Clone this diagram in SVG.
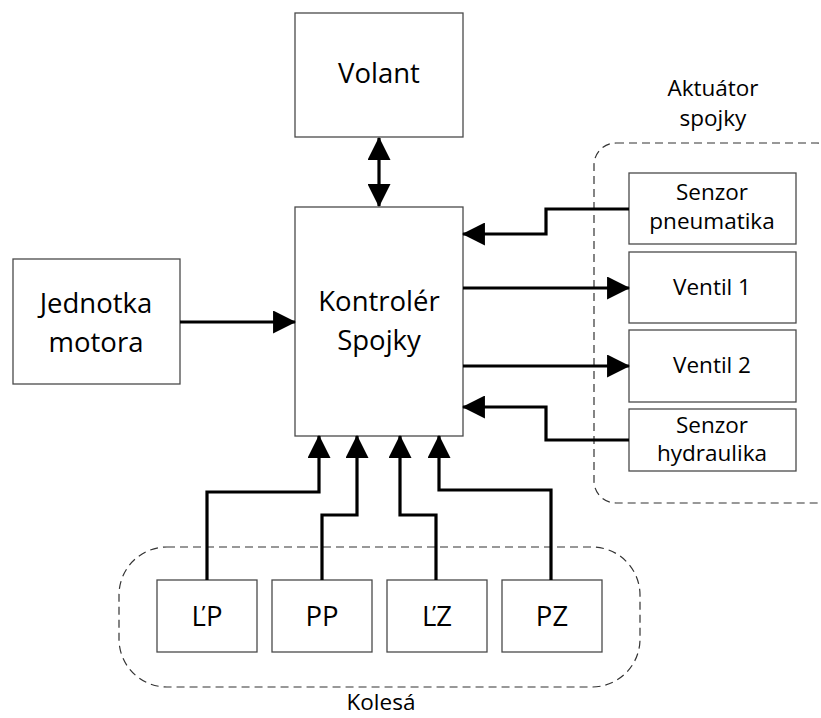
<svg xmlns="http://www.w3.org/2000/svg" width="821" height="718" viewBox="0 0 821 718">
<style>
.box{fill:#fff;stroke:#4a4a4a;stroke-width:1.3}
.grp{fill:none;stroke:#333;stroke-width:1.2;stroke-dasharray:8 5}
.t{font-family:"Open Sans","Liberation Sans",sans-serif;fill:#000;text-anchor:middle}
.big{font-size:27.5px}
.mid{font-size:22.5px}
.con{fill:none;stroke:#000;stroke-width:3.2}
</style>
<defs>
<marker id="ah" viewBox="0 0 22 22" refX="21" refY="11" markerWidth="23" markerHeight="23" markerUnits="userSpaceOnUse" orient="auto-start-reverse">
<path d="M0,0 L22,11 L0,22 Z" fill="#000"/>
</marker>
</defs>
<rect width="821" height="718" fill="#fff"/>
<g id="grp-aktuator">
<rect class="grp" x="594" y="143" width="245" height="360" rx="22"/>
<text class="t mid" x="713" y="96">Aktuátor</text>
<text class="t mid" x="713" y="126">spojky</text>
</g>
<g id="grp-kolesa">
<rect class="grp" x="119" y="547" width="521" height="140" rx="48"/>
<text class="t mid" x="381" y="710">Kolesá</text>
</g>
<g id="volant">
<rect class="box" x="295" y="13" width="168" height="124"/>
<text class="t big" x="379" y="83">Volant</text>
</g>
<g id="kontroler">
<rect class="box" x="295" y="207" width="168" height="229"/>
<text class="t big" x="379" y="311">Kontrolér</text>
<text class="t big" x="379" y="350">Spojky</text>
</g>
<g id="jednotka">
<rect class="box" x="13" y="259" width="167" height="125"/>
<text class="t big" x="96" y="313">Jednotka</text>
<text class="t big" x="96" y="352">motora</text>
</g>
<g id="senzor-pneumatika">
<rect class="box" x="629" y="173" width="167" height="71"/>
<text class="t mid" x="712" y="200">Senzor</text>
<text class="t mid" x="712" y="229">pneumatika</text>
</g>
<g id="ventil1">
<rect class="box" x="629" y="252" width="167" height="71"/>
<text class="t mid" x="712" y="295">Ventil 1</text>
</g>
<g id="ventil2">
<rect class="box" x="629" y="330" width="167" height="72"/>
<text class="t mid" x="712" y="373">Ventil 2</text>
</g>
<g id="senzor-hydraulika">
<rect class="box" x="629" y="409" width="167" height="62"/>
<text class="t mid" x="712" y="433">Senzor</text>
<text class="t mid" x="712" y="461">hydraulika</text>
</g>
<g id="lp">
<rect class="box" x="157" y="580" width="100" height="72"/>
<text class="t big" x="207" y="626">ĽP</text>
</g>
<g id="pp">
<rect class="box" x="272" y="580" width="100" height="72"/>
<text class="t big" x="322" y="626">PP</text>
</g>
<g id="lz">
<rect class="box" x="387" y="580" width="100" height="72"/>
<text class="t big" x="437" y="626">ĽZ</text>
</g>
<g id="pz">
<rect class="box" x="502" y="580" width="100" height="72"/>
<text class="t big" x="552" y="626">PZ</text>
</g>
<g id="connectors">
<path class="con" d="M379,138 L379,206" marker-start="url(#ah)" marker-end="url(#ah)"/>
<path class="con" d="M180,322 L295,322" marker-end="url(#ah)"/>
<path class="con" d="M629,209 L546,209 L546,234 L463,234" marker-end="url(#ah)"/>
<path class="con" d="M463,288 L629,288" marker-end="url(#ah)"/>
<path class="con" d="M463,366 L629,366" marker-end="url(#ah)"/>
<path class="con" d="M629,440 L546,440 L546,407 L463,407" marker-end="url(#ah)"/>
<path class="con" d="M207,580 L207,492 L319,492 L319,436" marker-end="url(#ah)"/>
<path class="con" d="M322,580 L322,515 L357,515 L357,436" marker-end="url(#ah)"/>
<path class="con" d="M436,580 L436,515 L400,515 L400,436" marker-end="url(#ah)"/>
<path class="con" d="M551,580 L551,490 L439,490 L439,436" marker-end="url(#ah)"/>
</g>
</svg>
